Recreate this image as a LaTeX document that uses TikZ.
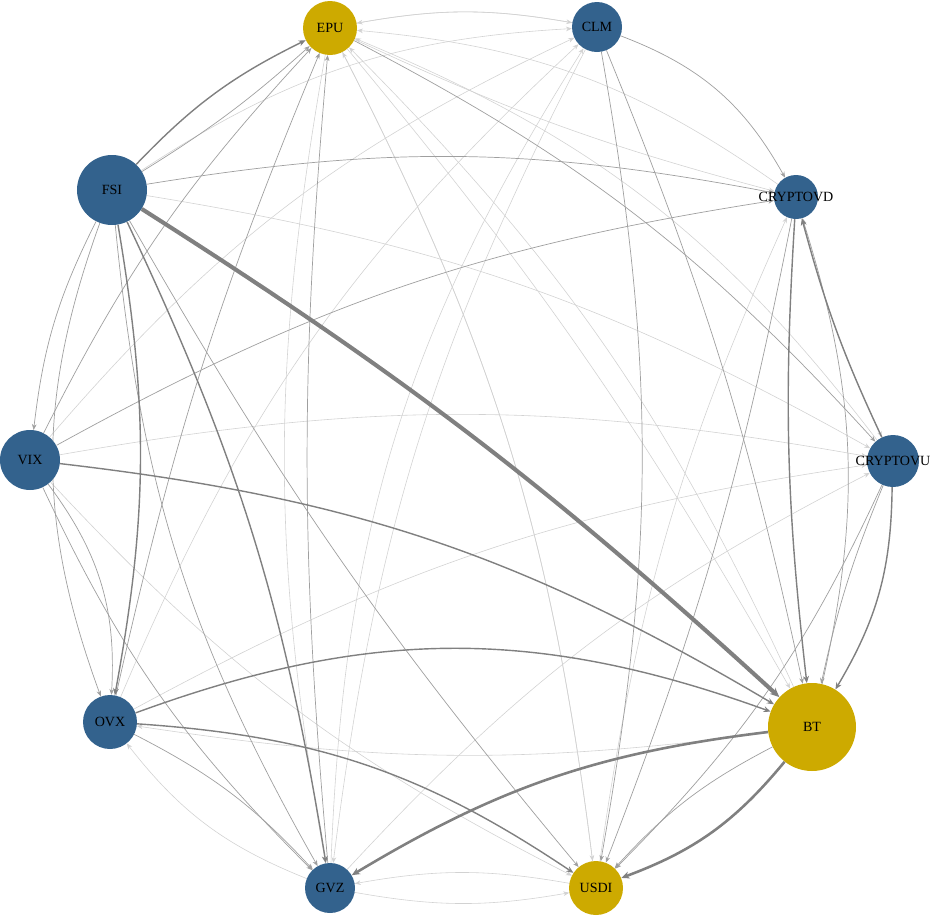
\documentclass[tikz,border=0pt]{standalone}
\usepackage{fontspec}
\setmainfont{Liberation Serif}
\usetikzlibrary{arrows.meta,backgrounds}
\definecolor{nblue}{HTML}{33628D}
\definecolor{ngold}{HTML}{CDAA00}
\begin{document}
\begin{tikzpicture}[x=0.03cm,y=-0.03cm,
  nd/.style={circle,inner sep=0pt,text=black,font=\fontsize{12}{12}\selectfont},
  bl/.style={nd,fill=nblue},
  gd/.style={nd,fill=ngold},
  ea/.style={-{Stealth[length=5pt,width=4pt]},gray!35,line width=0.5pt},
  eb/.style={-{Stealth[length=5pt,width=4pt]},gray!75,line width=0.6pt},
  ec/.style={-{Stealth[length=6pt,width=5pt]},gray,line width=1.2pt},
  ed/.style={-{Stealth[length=7pt,width=6pt]},gray,line width=2.2pt},
  ee/.style={-{Stealth[length=8pt,width=7pt]},gray,line width=3.5pt}]
\useasboundingbox (0,0) rectangle (944,919);
\node[gd,minimum size=1.62cm] (EPU) at (330,28) {EPU};
\node[bl,minimum size=1.5cm] (CLM) at (597,27) {CLM};
\node[bl,minimum size=2.1cm] (FSI) at (112,190) {FSI};
\node[bl,minimum size=1.32cm] (CVD) at (796,197) {};
\node[bl,minimum size=1.8cm] (VIX) at (30,460) {VIX};
\node[bl,minimum size=1.56cm] (CVU) at (893,461) {};
\node[bl,minimum size=1.62cm] (OVX) at (110,722) {OVX};
\node[gd,minimum size=2.64cm] (BT) at (812,727) {BT};
\node[bl,minimum size=1.5cm] (GVZ) at (330,888) {GVZ};
\node[gd,minimum size=1.62cm] (USDI) at (596,888) {USDI};
\begin{scope}[on background layer]
\draw[ea] (CLM) to[bend right=10] (EPU);
\draw[ea] (EPU) to[bend left=10] (CLM);
\draw[ea] (CVD) to[bend right=15] (EPU);
\draw[ea] (CVU) to[bend right=15] (EPU);
\draw[ea] (BT) to[bend right=10] (EPU);
\draw[ea] (USDI) to[bend right=10] (EPU);
\draw[ea] (EPU) to[bend left=10] (USDI);
\draw[ea] (EPU) to[bend right=5] (CVD);
\draw[ea] (FSI) to[bend left=15] (CLM);
\draw[ea] (FSI) to[bend left=10] (CVU);
\draw[ea] (VIX) to[bend left=12] (CLM);
\draw[ea] (VIX) to[bend left=10] (CVU);
\draw[ea] (VIX) to[bend right=10] (USDI);
\draw[ea] (OVX) to[bend left=12] (CLM);
\draw[ea] (OVX) to[bend left=10] (CVU);
\draw[ea] (GVZ) to[bend left=15] (CLM);
\draw[ea] (GVZ) to[bend left=10] (CVU);
\draw[ea] (GVZ) to[bend left=15] (OVX);
\draw[ea] (GVZ) to[bend right=10] (USDI);
\draw[ea] (USDI) to[bend right=10] (GVZ);
\draw[ea] (CVD) to[bend right=5] (CVU);
\draw[ea] (USDI) to[bend left=8] (CVD);
\draw[ea] (BT) to[bend left=8] (OVX);
\draw[ea] (CLM) to[bend right=10] (GVZ);
\draw[ea] (EPU) to[bend right=10] (GVZ);
\draw[ea] (EPU) to[bend left=5] (BT);
\draw[eb] (FSI) to[bend right=5] (EPU);
\draw[eb] (FSI) to[bend left=10] (CVD);
\draw[eb] (FSI) to[bend right=10] (VIX);
\draw[eb] (FSI) to[bend right=5] (USDI);
\draw[eb] (FSI) to[bend right=12] (GVZ);
\draw[eb] (VIX) to[bend left=8] (EPU);
\draw[eb] (VIX) to[bend left=10] (CVD);
\draw[eb] (VIX) to[bend left=20] (OVX);
\draw[eb] (VIX) to[bend right=10] (GVZ);
\draw[eb] (OVX) to[bend left=5] (EPU);
\draw[eb] (GVZ) to[bend left=5] (EPU);
\draw[eb] (CLM) to[bend left=20] (CVD);
\draw[eb] (CLM) to[bend left=10] (USDI);
\draw[eb] (CLM) to[bend left=5] (BT);
\draw[eb] (EPU) to[bend left=10] (CVU);
\draw[eb] (CVD) to[bend left=5] (USDI);
\draw[eb] (BT) to[bend right=15] (CVD);
\draw[eb] (CVU) to[bend left=10] (USDI);
\draw[eb] (CVU) to[bend right=5] (BT);
\draw[eb] (OVX) to[bend left=10] (GVZ);
\draw[eb] (BT) to[bend right=10] (USDI);
\draw[eb] (FSI) to[bend right=20] (OVX);
\draw[ec] (FSI) to[bend left=10] (EPU);
\draw[ec] (FSI) to[bend left=10] (OVX);
\draw[ec] (FSI) to[bend left=8] (GVZ);
\draw[ec] (VIX) to[bend left=12] (BT);
\draw[ec] (OVX) to[bend left=20] (BT);
\draw[ec] (OVX) to[bend left=15] (USDI);
\draw[ec] (CVU) to[bend left=15] (BT);
\draw[ec] (CVD) to[bend right=5] (BT);
\draw[ec] (CVU) to[bend left=5] (CVD);
\draw[ed] (BT) to[bend right=12] (GVZ);
\draw[ed] (BT) to[bend left=15] (USDI);
\draw[ee] (FSI) to[bend left=5] (BT);
\end{scope}
\node[font=\fontsize{12}{12}\selectfont] at (CVD) {CRYPTOVD};
\node[font=\fontsize{12}{12}\selectfont] at (CVU) {CRYPTOVU};
\end{tikzpicture}
\end{document}
